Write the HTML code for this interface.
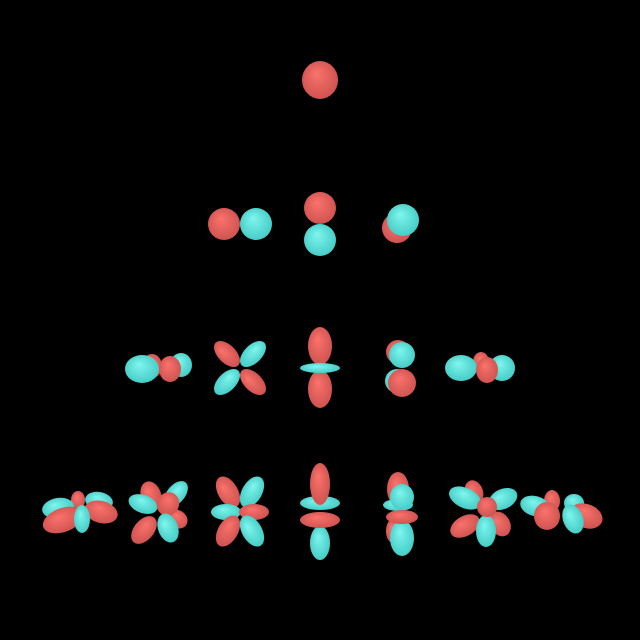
<!DOCTYPE html>
<html><head><meta charset="utf-8"><style>html,body{margin:0;padding:0;background:#000}svg{display:block}</style></head>
<body>
<svg id="chart" width="640" height="640" viewBox="0 0 640 640" xmlns="http://www.w3.org/2000/svg">
<defs>
<radialGradient id="gr" cx="50%" cy="50%" r="62%" fx="40%" fy="32%"><stop offset="0" stop-color="#fb736c"/><stop offset="1" stop-color="#c84e4c"/></radialGradient>
<radialGradient id="gc" cx="50%" cy="50%" r="62%" fx="40%" fy="32%"><stop offset="0" stop-color="#80f6ee"/><stop offset="1" stop-color="#3cc6c0"/></radialGradient>
</defs>
<rect width="640" height="640" fill="#000"/>
<g id="lobes"></g>
</svg>
<script>
// orbital labels (l,m) and lobes: [orbitalIndex, cx, cy, rx, ry, rotation, colour]
const orbitals = ["l0m0","l1m-1","l1m0","l1m1","l2m-2","l2m-1","l2m0","l2m1","l2m2","l3m-3","l3m-2","l3m-1","l3m0","l3m1","l3m2","l3m3"];
const lobes = [
[0,320,80,18,19,0,"r"],
[1,224,224,16,16,0,"r"],[1,256,224,16,16,0,"c"],
[2,320,208,16,16,0,"r"],[2,320,240,16,16,0,"c"],
[3,397,228,15,15,0,"r"],[3,403,220,16,16,0,"c"],
[4,181,365,11,12,0,"c"],[4,152,366,10,12,0,"r"],[4,142,369,17,14,0,"c"],[4,170,369,11,13,0,"r"],
[5,227,354,9,16,-45,"r"],[5,253,354,9,16,45,"c"],[5,227,382,9,16,45,"c"],[5,253,382,9,16,-45,"r"],
[6,320,346,12,19,0,"r"],[6,320,389,12,19,0,"r"],[6,320,368,20,5,0,"c"],
[7,398,352,12,12,0,"r"],[7,397,381,12,12,0,"c"],[7,402,355,13,13,0,"c"],[7,402,383,14,14,0,"r"],
[8,481,362,8,10,0,"r"],[8,461,368,16,13,0,"c"],[8,502,368,13,13,0,"c"],[8,487,370,11,13,0,"r"],
[9,78,500,7,9,0,"r"],[9,58,508,16,10,-10,"c"],[9,99,501,14,9,10,"c"],[9,63,520,21,12,-20,"r"],[9,101,512,17,11,15,"r"],[9,82,519,8,14,0,"c"],
[10,151,495,10,14,-20,"r"],[10,176,494,9,15,40,"c"],[10,143,504,15,9,20,"c"],[10,177,519,11,9,30,"r"],[10,144,530,10,16,40,"r"],[10,168,504,11,12,30,"r"],[10,168,528,10,15,-20,"c"],
[11,228,492,10,17,-30,"r"],[11,252,492,10,17,30,"c"],[11,226,512,15,8,0,"c"],[11,254,512,15,8,0,"r"],[11,228,531,10,17,30,"r"],[11,252,531,10,17,-30,"c"],
[12,320,543,10,17,0,"c"],[12,320,520,20,8,0,"r"],[12,320,503,20,7,0,"c"],[12,320,484,10,21,0,"r"],
[13,398,489,11,17,0,"r"],[13,398,505,15,6,0,"c"],[13,393,531,7,12,0,"r"],[13,402,538,12,18,0,"c"],[13,402,517,16,7,0,"r"],[13,402,497,12,13,0,"c"],
[14,474,492,9,12,-20,"r"],[14,465,498,17,10,25,"c"],[14,503,499,15,10,-25,"c"],[14,465,526,16,10,-30,"r"],[14,500,524,10,13,-30,"r"],[14,486,531,10,16,0,"c"],[14,487,507,10,10,0,"r"],
[15,552,501,8,11,0,"r"],[15,535,506,15,10,15,"c"],[15,574,503,10,9,0,"c"],[15,586,516,17,12,20,"r"],[15,547,516,13,14,0,"r"],[15,573,519,10,15,-20,"c"]
];
const g = document.getElementById('lobes');
const NS = "http://www.w3.org/2000/svg";
lobes.forEach(function(d){
  const e = document.createElementNS(NS,'ellipse');
  e.setAttribute('cx', d[1]); e.setAttribute('cy', d[2]);
  e.setAttribute('rx', d[3]); e.setAttribute('ry', d[4]);
  e.setAttribute('transform','rotate('+d[5]+' '+d[1]+' '+d[2]+')');
  e.setAttribute('fill', d[6]==='r' ? 'url(#gr)' : 'url(#gc)');
  
  
  g.appendChild(e);
});
</script>
</body></html>
